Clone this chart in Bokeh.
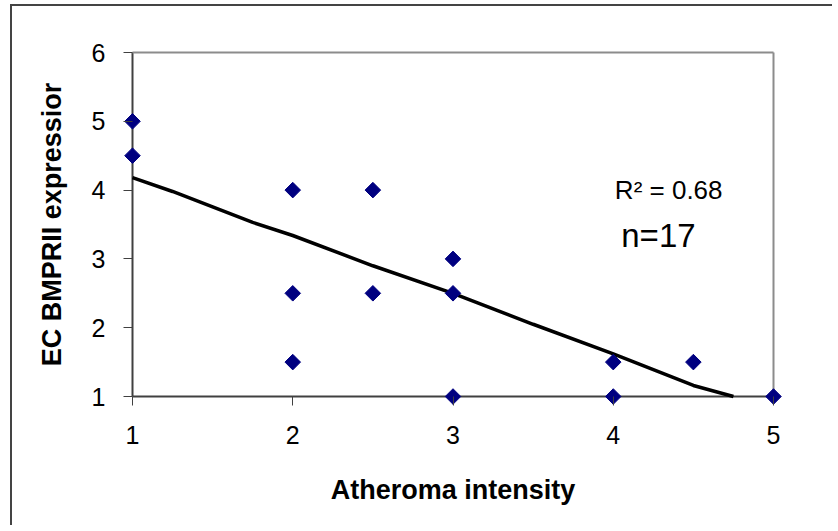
import numpy as np
from bokeh.plotting import figure
from bokeh.models import Range1d, FixedTicker, Label
from bokeh.embed import file_html
from bokeh.resources import INLINE

# Data
atheroma = [1, 1, 2, 2, 2, 2.5, 2.5, 3, 3, 3, 4, 4, 4.5, 5]
bmprii = [5, 4.5, 4, 2.5, 1.5, 4, 2.5, 3, 2.5, 1, 1.5, 1, 1.5, 1]

# Trend line (as drawn in the reference)
trend_x = [1, 1.25, 1.75, 2, 2.5, 3, 3.5, 4, 4.5, 4.75]
trend_y = [4.18, 3.98, 3.53, 3.34, 2.9, 2.5, 2.05, 1.62, 1.16, 1.0]

x_ticks = [1, 2, 3, 4, 5]
y_ticks = [1, 2, 3, 4, 5, 6]

r2_text = "R² = 0.68"
n_text = "n=17"

FONT = "Liberation Sans"

# plot-area geometry (pixels)
PLOT_W, PLOT_H = 641, 344
PAD = 9  # extra room so markers on the axes are not clipped
xmin, xmax = x_ticks[0], x_ticks[-1]
ymin, ymax = y_ticks[0], y_ticks[-1]
dx = PAD * (xmax - xmin) / PLOT_W
dy = PAD * (ymax - ymin) / PLOT_H

p = figure(
    output_backend="svg", toolbar_location=None,
    frame_width=PLOT_W + 2 * PAD, frame_height=PLOT_H + 2 * PAD,
    min_border_left=111, min_border_right=50,
    min_border_top=37, min_border_bottom=120,
    x_range=Range1d(xmin - dx, xmax + dx), y_range=Range1d(ymin - dy, ymax + dy),
    background_fill_color="white", border_fill_color="white",
)
p.styles = {"border-top": "2px solid #444444", "border-left": "2px solid #444444",
            "margin-left": "10px", "margin-top": "4px"}

p.grid.visible = False
p.outline_line_color = None

for ax, ticks in ((p.xaxis[0], x_ticks), (p.yaxis[0], y_ticks)):
    ax.ticker = FixedTicker(ticks=ticks)
    ax.minor_tick_line_color = None
    ax.axis_line_color = None
    ax.major_tick_line_color = "#404040"
    ax.major_tick_line_width = 1
    ax.major_tick_in = PAD
    ax.major_tick_out = 0
    ax.major_label_text_font = FONT
    ax.major_label_text_font_size = "25px"
    ax.major_label_text_color = "black"
    ax.axis_label_text_font = FONT
    ax.axis_label_text_font_size = "27px"
    ax.axis_label_text_font_style = "bold"
    ax.axis_label_text_color = "black"

p.xaxis.axis_label = "Atheroma intensity"
p.yaxis.axis_label = "EC BMPRII expressior"
p.xaxis.major_label_standoff = 20
p.yaxis.major_label_standoff = 18
p.xaxis.axis_label_standoff = 28
p.yaxis.axis_label_standoff = 22

# plot-area border: dark left/bottom axes, gray top/right
p.segment(x0=[xmin, xmin], y0=[ymin, ymin], x1=[xmin, xmax], y1=[ymax, ymin],
          line_color="#404040", line_width=2)
p.segment(x0=[xmin, xmax], y0=[ymax, ymin], x1=[xmax, xmax], y1=[ymax, ymax],
          line_color="#8c8c8c", line_width=2)

p.line(trend_x, trend_y, line_color="black", line_width=3.5)
p.scatter(atheroma, bmprii, marker="square", angle=np.pi / 4, size=11,
          fill_color="#000080", line_color="#000080")

p.add_layout(Label(x=4.01, y=3.79, text=r2_text, text_font=FONT,
                   text_font_size="26px", text_color="black"))
p.add_layout(Label(x=4.05, y=3.07, text=n_text, text_font=FONT,
                   text_font_size="33px", text_color="black"))

open("out.html", "w").write(file_html(p, INLINE))
